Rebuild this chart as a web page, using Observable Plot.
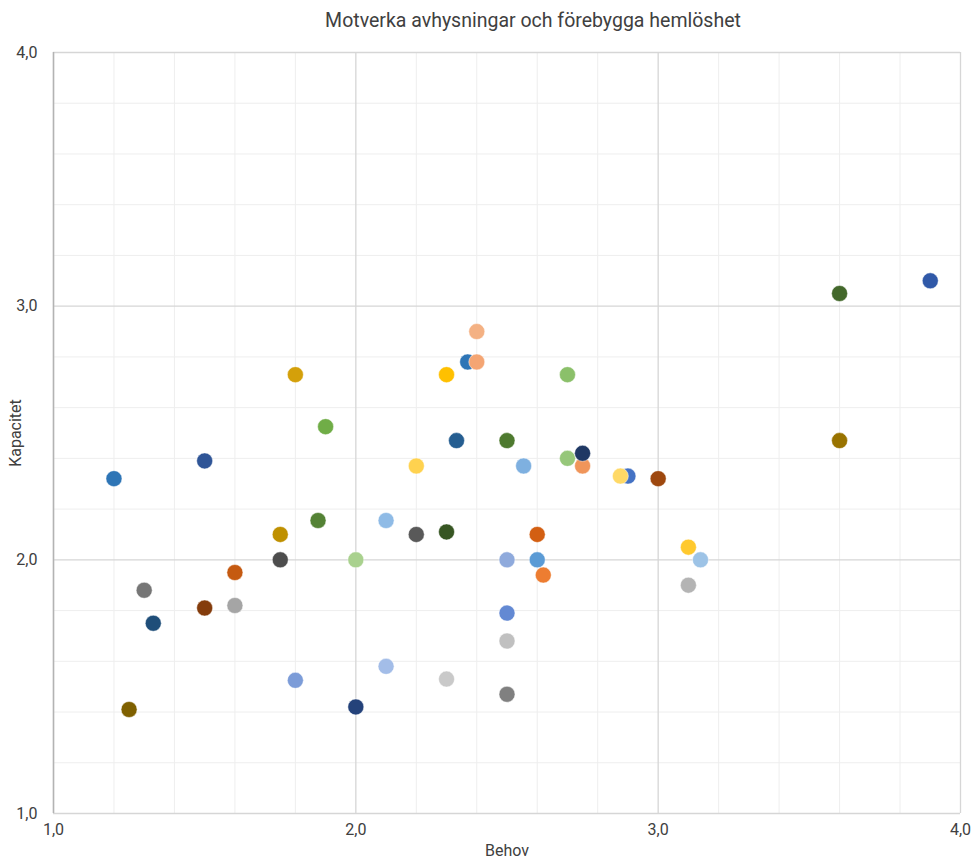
<!DOCTYPE html>
<html>
<head>
<meta charset="utf-8">
<script src="https://cdn.jsdelivr.net/npm/d3@7"></script>
<script src="https://cdn.jsdelivr.net/npm/@observablehq/plot@0.6"></script>
<style>
  html, body { margin: 0; padding: 0; background: #fff; }
  #title {
    width: 973px; height: 40px; box-sizing: border-box;
    padding-left: 93px; text-align: center;
    font-family: Roboto, sans-serif; font-size: 19.5px; line-height: 42px; color: #404040;
  }
  #chart svg { display: block; }
</style>
</head>
<body>
<div id="title">Motverka avhysningar och förebygga hemlöshet</div>
<div id="chart"></div>
<script>
// Behov (x) and Kapacitet (y) per respondent, with one marker colour each
const behov = [
  1.2, 1.5, 1.8, 1.9, 1.875, 1.75, 1.75, 2.0, 1.6, 1.3,
  1.5, 1.6, 1.33, 1.25, 1.8, 2.0, 2.1, 2.3, 2.5, 2.5,
  2.5, 2.5, 2.6, 2.62, 2.6, 2.1, 2.2, 2.3, 2.2, 2.333,
  2.5, 2.555, 2.7, 2.75, 2.9, 2.875, 3.0, 2.7, 2.3, 2.37,
  2.4, 2.4, 3.6, 3.9, 3.6, 3.1, 3.14, 3.1, 2.75
];
const kapacitet = [
  2.32, 2.39, 2.73, 2.525, 2.155, 2.1, 2.0, 2.0, 1.95, 1.88,
  1.81, 1.82, 1.75, 1.41, 1.525, 1.42, 1.58, 1.53, 1.47, 1.68,
  1.79, 2.0, 2.0, 1.94, 2.1, 2.155, 2.1, 2.11, 2.37, 2.47,
  2.47, 2.37, 2.4, 2.37, 2.33, 2.33, 2.32, 2.73, 2.73, 2.78,
  2.78, 2.9, 3.05, 3.1, 2.47, 2.05, 2.0, 1.9, 2.42
];
const colors = [
  "#2E75B6", "#2F5597", "#D4A00A", "#70AD47", "#548235", "#BF9000", "#4D4D4D", "#A9D18E", "#C55A11", "#767676",
  "#843C0C", "#A5A5A5", "#1F4E79", "#7F6000", "#7C9CD8", "#24427A", "#A3BDE8", "#C9C9C9", "#808080", "#C0C0C0",
  "#6389D3", "#8FAADC", "#5B9BD5", "#ED7D31", "#D35F12", "#8FBBE6", "#595959", "#375623", "#FFD24F", "#255E91",
  "#4E7A2F", "#7EB0E0", "#96C77A", "#F0955A", "#4472C4", "#FFD966", "#9E480E", "#8BC06A", "#FFC000", "#2E75B6",
  "#F4A573", "#F4B183", "#43682B", "#3059A8", "#997300", "#FFC92E", "#9DC3E6", "#B4B4B4", "#1F3864"
];

// axis ticks and gridlines
const majorTicks = [1, 2, 3, 4];
const minorTicks = d3.range(1, 4.0001, 0.2).filter(v => Math.abs(v - Math.round(v)) > 1e-6);

const points = behov.map((b, i) => ({behov: b, kapacitet: kapacitet[i], color: colors[i]}));
const fmt = d => d.toFixed(1).replace(".", ",");

const chart = Plot.plot({
  width: 973,
  height: 819,
  marginTop: 12,
  marginBottom: 46,
  marginLeft: 53,
  marginRight: 13,
  style: {fontFamily: "Roboto, sans-serif", fontSize: "16px", color: "#404040", background: "#fff"},
  x: {domain: [1, 4], ticks: majorTicks, tickFormat: fmt, tickSize: 0, tickPadding: 10,
      label: "Behov", labelAnchor: "center", labelArrow: "none", labelOffset: 42},
  y: {domain: [1, 4], ticks: majorTicks, tickFormat: fmt, tickSize: 0, tickPadding: 16,
      label: "Kapacitet", labelAnchor: "center", labelArrow: "none", labelOffset: 44},
  color: {type: "identity"},
  marks: [
    Plot.ruleX(minorTicks, {stroke: "#eeeeee", strokeWidth: 1}),
    Plot.ruleY(minorTicks, {stroke: "#eeeeee", strokeWidth: 1}),
    Plot.ruleX(majorTicks, {stroke: "#d6d6d6", strokeWidth: 1.3}),
    Plot.ruleY(majorTicks, {stroke: "#d6d6d6", strokeWidth: 1.3}),
    Plot.ruleX([1], {stroke: "#b3b3b3", strokeWidth: 1.5}),
    Plot.dot(points, {x: "behov", y: "kapacitet", r: 8, fill: "color", stroke: "#fff", strokeWidth: 0.6, strokeOpacity: 0.8})
  ]
});

document.getElementById("chart").appendChild(chart);
</script>
</body>
</html>
